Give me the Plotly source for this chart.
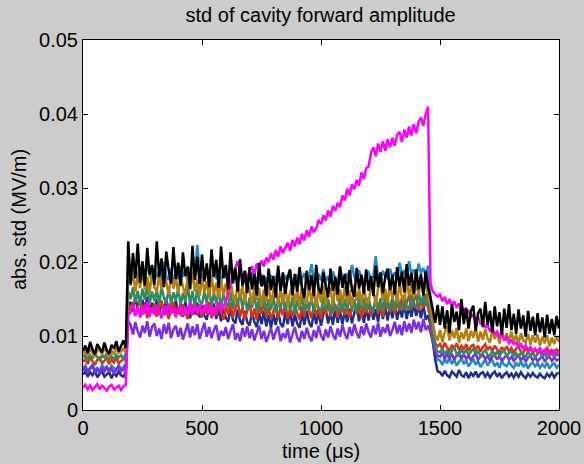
import plotly.graph_objects as go

# time axis (µs), sampled every 10 µs
time_us = list(range(0, 2001, 10))

# ---- series values (MV/m) ----
black_pre = [0.0080, 0.0087, 0.0077, 0.0092, 0.0082, 0.0075, 0.0089, 0.0084, 0.0078, 0.0091,
             0.0081, 0.0076, 0.0088, 0.0083, 0.0093, 0.0079, 0.0086, 0.0094, 0.0084]
black_mid = [0.0228,
             0.0170, 0.0212, 0.0178, 0.0225, 0.0172, 0.0201, 0.0168, 0.0219, 0.0183, 0.0196,
             0.0169, 0.0228, 0.0180, 0.0205, 0.0166, 0.0214, 0.0189, 0.0171, 0.0220, 0.0177,
             0.0199, 0.0168, 0.0213, 0.0181, 0.0194, 0.0164, 0.0222, 0.0176, 0.0207, 0.0170,
             0.0210, 0.0174, 0.0198, 0.0166, 0.0217, 0.0180, 0.0203, 0.0165, 0.0221, 0.0178,
             0.0196, 0.0163, 0.0213, 0.0171, 0.0192, 0.0160, 0.0204, 0.0168, 0.0188, 0.0158,
             0.0193, 0.0163, 0.0184, 0.0155, 0.0199, 0.0167, 0.0182, 0.0154, 0.0191, 0.0162,
             0.0181, 0.0152, 0.0195, 0.0161, 0.0186, 0.0157, 0.0179, 0.0190, 0.0155, 0.0184,
             0.0160, 0.0193, 0.0166, 0.0151, 0.0188, 0.0162, 0.0182, 0.0154, 0.0196, 0.0164,
             0.0157, 0.0186, 0.0168, 0.0152, 0.0191, 0.0161, 0.0180, 0.0156, 0.0194, 0.0165,
             0.0184, 0.0155, 0.0189, 0.0163, 0.0153, 0.0192, 0.0164, 0.0183, 0.0157, 0.0190,
             0.0161, 0.0181, 0.0154, 0.0195, 0.0166, 0.0186, 0.0158, 0.0180, 0.0191, 0.0162,
             0.0183, 0.0156, 0.0193, 0.0167, 0.0187, 0.0159, 0.0197, 0.0168, 0.0185, 0.0157,
             0.0190, 0.0163, 0.0184, 0.0155, 0.0188, 0.0166]
black_post = [0.0152, 0.0135, 0.0118, 0.0142,
              0.0115, 0.0140, 0.0110, 0.0135, 0.0104, 0.0143, 0.0119, 0.0133, 0.0108, 0.0150,
              0.0116, 0.0138, 0.0110, 0.0134, 0.0141, 0.0107, 0.0131, 0.0137, 0.0112, 0.0146,
              0.0115, 0.0134, 0.0105, 0.0140, 0.0113, 0.0132, 0.0102, 0.0137, 0.0111, 0.0143,
              0.0108, 0.0130, 0.0103, 0.0136, 0.0110, 0.0128, 0.0099, 0.0134, 0.0107, 0.0126,
              0.0101, 0.0131, 0.0105, 0.0125, 0.0098, 0.0129, 0.0103, 0.0123, 0.0101, 0.0127,
              0.0110]

brown_pre = [0.0076, 0.0081, 0.0073, 0.0083, 0.0077, 0.0072, 0.0080, 0.0082, 0.0074, 0.0084,
             0.0078, 0.0071, 0.0081, 0.0075, 0.0085, 0.0077, 0.0079, 0.0083, 0.0078]
brown_mid = [0.0192,
             0.0168, 0.0188, 0.0160, 0.0182, 0.0165, 0.0190, 0.0162, 0.0180, 0.0158, 0.0186,
             0.0166, 0.0159, 0.0184, 0.0163, 0.0189, 0.0170, 0.0156, 0.0182, 0.0164, 0.0179,
             0.0158, 0.0183, 0.0166, 0.0155, 0.0181, 0.0162, 0.0187, 0.0160, 0.0177, 0.0154,
             0.0179, 0.0159, 0.0174, 0.0152, 0.0182, 0.0157, 0.0172, 0.0150, 0.0177, 0.0155,
             0.0171, 0.0149, 0.0175, 0.0154, 0.0146, 0.0172, 0.0152, 0.0168, 0.0144, 0.0170,
             0.0162, 0.0142, 0.0167, 0.0149, 0.0165, 0.0140, 0.0163, 0.0146, 0.0169, 0.0143,
             0.0161, 0.0166, 0.0141, 0.0163, 0.0145, 0.0168, 0.0139, 0.0160, 0.0165, 0.0144,
             0.0163, 0.0140, 0.0167, 0.0147, 0.0143, 0.0170, 0.0146, 0.0162, 0.0138, 0.0165,
             0.0145, 0.0168, 0.0142, 0.0161, 0.0165, 0.0141, 0.0171, 0.0147, 0.0163, 0.0143,
             0.0167, 0.0144, 0.0162, 0.0139, 0.0169, 0.0148, 0.0164, 0.0142, 0.0166, 0.0149,
             0.0144, 0.0168, 0.0162, 0.0141, 0.0165, 0.0173, 0.0147, 0.0164, 0.0145, 0.0169,
             0.0150, 0.0167, 0.0144, 0.0172, 0.0152, 0.0148, 0.0175, 0.0154, 0.0170, 0.0151,
             0.0173, 0.0155, 0.0177, 0.0157, 0.0174, 0.0154]
brown_post = [0.0142, 0.0118, 0.0101, 0.0094,
              0.0108, 0.0092, 0.0105, 0.0113, 0.0094, 0.0108, 0.0097, 0.0111, 0.0091, 0.0105,
              0.0096, 0.0110, 0.0093, 0.0107, 0.0098, 0.0112, 0.0092, 0.0106, 0.0095, 0.0109,
              0.0097, 0.0091, 0.0108, 0.0096, 0.0105, 0.0090, 0.0107, 0.0094, 0.0104, 0.0093,
              0.0106, 0.0092, 0.0102, 0.0089, 0.0104, 0.0094, 0.0091, 0.0103, 0.0088, 0.0101,
              0.0091, 0.0102, 0.0087, 0.0099, 0.0090, 0.0101, 0.0086, 0.0098, 0.0089, 0.0100,
              0.0092]

lblue_pre = [0.0056, 0.0060, 0.0053, 0.0058, 0.0062, 0.0054, 0.0057, 0.0052, 0.0061, 0.0056,
             0.0059, 0.0053, 0.0060, 0.0057, 0.0054, 0.0061, 0.0055, 0.0058, 0.0063]
lblue_mid = [0.0180,
             0.0187, 0.0174, 0.0194, 0.0180, 0.0172, 0.0190, 0.0177, 0.0198, 0.0182, 0.0175,
             0.0192, 0.0178, 0.0188, 0.0173, 0.0200, 0.0181, 0.0176, 0.0191, 0.0174, 0.0186,
             0.0177, 0.0195, 0.0180, 0.0189, 0.0172, 0.0192, 0.0182, 0.0176, 0.0223, 0.0186,
             0.0179, 0.0174, 0.0190, 0.0181, 0.0172, 0.0194, 0.0177, 0.0187, 0.0171, 0.0189,
             0.0180, 0.0175, 0.0203, 0.0173, 0.0184, 0.0170, 0.0188, 0.0176, 0.0172, 0.0183,
             0.0175, 0.0186, 0.0169, 0.0180, 0.0171, 0.0183, 0.0168, 0.0179, 0.0173, 0.0182,
             0.0170, 0.0179, 0.0186, 0.0172, 0.0168, 0.0182, 0.0175, 0.0188, 0.0171, 0.0178,
             0.0183, 0.0169, 0.0176, 0.0185, 0.0172, 0.0180, 0.0197, 0.0175, 0.0170, 0.0184,
             0.0175, 0.0190, 0.0173, 0.0181, 0.0171, 0.0187, 0.0177, 0.0172, 0.0192, 0.0179,
             0.0174, 0.0185, 0.0176, 0.0196, 0.0180, 0.0175, 0.0189, 0.0177, 0.0172, 0.0183,
             0.0186, 0.0176, 0.0181, 0.0208, 0.0178, 0.0174, 0.0188, 0.0181, 0.0177, 0.0191,
             0.0179, 0.0186, 0.0176, 0.0199, 0.0182, 0.0189, 0.0178, 0.0201, 0.0183, 0.0190,
             0.0180, 0.0198, 0.0185, 0.0192, 0.0182, 0.0195]
lblue_post = [0.0150, 0.0110, 0.0078, 0.0068,
              0.0067, 0.0061, 0.0069, 0.0063, 0.0071, 0.0062, 0.0068, 0.0060, 0.0066, 0.0070,
              0.0062, 0.0067, 0.0059, 0.0065, 0.0069, 0.0061, 0.0066, 0.0058, 0.0064, 0.0068,
              0.0060, 0.0065, 0.0067, 0.0059, 0.0064, 0.0057, 0.0066, 0.0061, 0.0059, 0.0065,
              0.0060, 0.0057, 0.0064, 0.0059, 0.0066, 0.0058, 0.0063, 0.0056, 0.0062, 0.0064,
              0.0059, 0.0063, 0.0057, 0.0062, 0.0058, 0.0064, 0.0056, 0.0061, 0.0063, 0.0057,
              0.0061]

green_pre = [0.0071, 0.0075, 0.0068, 0.0074, 0.0070, 0.0076, 0.0072, 0.0067, 0.0074, 0.0071,
             0.0077, 0.0069, 0.0073, 0.0068, 0.0075, 0.0071, 0.0074, 0.0069, 0.0076]
green_mid = [0.0160,
             0.0150, 0.0166, 0.0145, 0.0161, 0.0142, 0.0164, 0.0149, 0.0169, 0.0144, 0.0160,
             0.0147, 0.0163, 0.0141, 0.0167, 0.0152, 0.0144, 0.0165, 0.0143, 0.0159, 0.0148,
             0.0164, 0.0142, 0.0158, 0.0146, 0.0168, 0.0143, 0.0161, 0.0140, 0.0163, 0.0147,
             0.0143, 0.0160, 0.0145, 0.0165, 0.0140, 0.0158, 0.0144, 0.0162, 0.0138, 0.0157,
             0.0145, 0.0139, 0.0160, 0.0136, 0.0155, 0.0142, 0.0161, 0.0137, 0.0153, 0.0134,
             0.0152, 0.0138, 0.0157, 0.0133, 0.0151, 0.0137, 0.0155, 0.0132, 0.0150, 0.0135,
             0.0154, 0.0131, 0.0149, 0.0136, 0.0156, 0.0133, 0.0151, 0.0134, 0.0153, 0.0130,
             0.0149, 0.0135, 0.0155, 0.0132, 0.0150, 0.0136, 0.0152, 0.0131, 0.0151, 0.0137,
             0.0133, 0.0153, 0.0135, 0.0150, 0.0130, 0.0154, 0.0136, 0.0134, 0.0152, 0.0132,
             0.0150, 0.0135, 0.0155, 0.0133, 0.0149, 0.0131, 0.0153, 0.0136, 0.0151, 0.0134,
             0.0152, 0.0137, 0.0132, 0.0154, 0.0135, 0.0151, 0.0133, 0.0156, 0.0138, 0.0136,
             0.0153, 0.0134, 0.0158, 0.0139, 0.0137, 0.0155, 0.0140, 0.0135, 0.0157, 0.0141,
             0.0138, 0.0160, 0.0142, 0.0156, 0.0140, 0.0158]
green_post = [0.0130, 0.0105, 0.0085, 0.0079,
              0.0078, 0.0083, 0.0075, 0.0081, 0.0074, 0.0080, 0.0084, 0.0076, 0.0073, 0.0082,
              0.0077, 0.0081, 0.0074, 0.0079, 0.0083, 0.0075, 0.0080, 0.0073, 0.0077, 0.0081,
              0.0075, 0.0072, 0.0080, 0.0074, 0.0079, 0.0073, 0.0078, 0.0081, 0.0072, 0.0077,
              0.0079, 0.0073, 0.0077, 0.0071, 0.0078, 0.0074, 0.0072, 0.0079, 0.0073, 0.0077,
              0.0071, 0.0076, 0.0078, 0.0072, 0.0077, 0.0070, 0.0075, 0.0078, 0.0071, 0.0076,
              0.0073]

red_pre = [0.0065, 0.0069, 0.0062, 0.0071, 0.0066, 0.0061, 0.0068, 0.0072, 0.0063, 0.0066,
           0.0070, 0.0062, 0.0068, 0.0064, 0.0071, 0.0063, 0.0066, 0.0069, 0.0067]
red_mid = [0.0142,
           0.0134, 0.0146, 0.0127, 0.0140, 0.0149, 0.0129, 0.0143, 0.0124, 0.0139, 0.0131,
           0.0144, 0.0126, 0.0138, 0.0148, 0.0128, 0.0141, 0.0123, 0.0136, 0.0146, 0.0130,
           0.0140, 0.0127, 0.0143, 0.0132, 0.0123, 0.0145, 0.0133, 0.0149, 0.0128, 0.0139,
           0.0125, 0.0142, 0.0130, 0.0146, 0.0124, 0.0139, 0.0128, 0.0144, 0.0131, 0.0122,
           0.0140, 0.0129, 0.0145, 0.0125, 0.0137, 0.0148, 0.0126, 0.0139, 0.0123, 0.0133,
           0.0144, 0.0125, 0.0137, 0.0122, 0.0141, 0.0130, 0.0147, 0.0126, 0.0139, 0.0123,
           0.0133, 0.0143, 0.0124, 0.0139, 0.0128, 0.0146, 0.0123, 0.0136, 0.0127, 0.0142,
           0.0131, 0.0122, 0.0140, 0.0126, 0.0145, 0.0133, 0.0124, 0.0142, 0.0128, 0.0138,
           0.0123, 0.0140, 0.0130, 0.0146, 0.0126, 0.0137, 0.0143, 0.0125, 0.0134, 0.0145,
           0.0128, 0.0142, 0.0125, 0.0137, 0.0149, 0.0129, 0.0143, 0.0124, 0.0140, 0.0131,
           0.0145, 0.0127, 0.0139, 0.0148, 0.0130, 0.0143, 0.0126, 0.0141, 0.0151, 0.0132,
           0.0143, 0.0129, 0.0147, 0.0134, 0.0152, 0.0135, 0.0145, 0.0155, 0.0136, 0.0148,
           0.0156, 0.0134, 0.0150, 0.0138, 0.0157, 0.0137]
red_post = [0.0125, 0.0100, 0.0090, 0.0086,
            0.0089, 0.0082, 0.0091, 0.0084, 0.0080, 0.0088, 0.0083, 0.0090, 0.0081, 0.0087,
            0.0082, 0.0089, 0.0080, 0.0086, 0.0088, 0.0081, 0.0087, 0.0079, 0.0085, 0.0089,
            0.0081, 0.0086, 0.0079, 0.0087, 0.0082, 0.0078, 0.0085, 0.0080, 0.0086, 0.0079,
            0.0084, 0.0078, 0.0083, 0.0086, 0.0079, 0.0077, 0.0084, 0.0079, 0.0083, 0.0076,
            0.0082, 0.0078, 0.0083, 0.0077, 0.0081, 0.0084, 0.0076, 0.0081, 0.0077, 0.0082,
            0.0079]

dblue_pre = [0.0048, 0.0052, 0.0045, 0.0051, 0.0047, 0.0053, 0.0044, 0.0049, 0.0052, 0.0045,
             0.0048, 0.0051, 0.0043, 0.0050, 0.0046, 0.0052, 0.0047, 0.0045, 0.0051]
dblue_mid = [0.0140,
             0.0146, 0.0133, 0.0152, 0.0138, 0.0130, 0.0149, 0.0136, 0.0153, 0.0131, 0.0145,
             0.0134, 0.0150, 0.0129, 0.0144, 0.0133, 0.0151, 0.0128, 0.0142, 0.0131, 0.0148,
             0.0130, 0.0143, 0.0126, 0.0146, 0.0132, 0.0124, 0.0142, 0.0129, 0.0145, 0.0125,
             0.0141, 0.0128, 0.0122, 0.0140, 0.0126, 0.0144, 0.0123, 0.0137, 0.0120, 0.0136,
             0.0125, 0.0119, 0.0138, 0.0122, 0.0117, 0.0136, 0.0121, 0.0115, 0.0134, 0.0119,
             0.0114, 0.0132, 0.0119, 0.0112, 0.0131, 0.0116, 0.0134, 0.0113, 0.0129, 0.0111,
             0.0130, 0.0115, 0.0133, 0.0117, 0.0112, 0.0132, 0.0116, 0.0135, 0.0113, 0.0129,
             0.0117, 0.0111, 0.0131, 0.0115, 0.0134, 0.0118, 0.0112, 0.0132, 0.0116, 0.0133,
             0.0114, 0.0130, 0.0136, 0.0117, 0.0132, 0.0115, 0.0138, 0.0118, 0.0133, 0.0116,
             0.0134, 0.0119, 0.0137, 0.0117, 0.0132, 0.0139, 0.0120, 0.0135, 0.0118, 0.0138,
             0.0121, 0.0140, 0.0122, 0.0136, 0.0119, 0.0142, 0.0123, 0.0139, 0.0121, 0.0141,
             0.0124, 0.0143, 0.0122, 0.0139, 0.0125, 0.0144, 0.0123, 0.0140, 0.0126, 0.0145,
             0.0127, 0.0141, 0.0124, 0.0143, 0.0122, 0.0128]
dblue_post = [0.0115, 0.0090, 0.0068, 0.0052,
              0.0051, 0.0046, 0.0053, 0.0047, 0.0044, 0.0052, 0.0048, 0.0045, 0.0054, 0.0047,
              0.0045, 0.0051, 0.0043, 0.0050, 0.0046, 0.0052, 0.0044, 0.0049, 0.0051, 0.0045,
              0.0050, 0.0044, 0.0049, 0.0052, 0.0045, 0.0050, 0.0043, 0.0048, 0.0051, 0.0045,
              0.0049, 0.0044, 0.0050, 0.0045, 0.0051, 0.0046, 0.0043, 0.0049, 0.0045, 0.0050,
              0.0046, 0.0044, 0.0049, 0.0045, 0.0043, 0.0049, 0.0045, 0.0050, 0.0044, 0.0049,
              0.0050]

purple_pre = [0.0053, 0.0057, 0.0050, 0.0056, 0.0059, 0.0051, 0.0055, 0.0049, 0.0057, 0.0052,
              0.0058, 0.0051, 0.0056, 0.0050, 0.0055, 0.0058, 0.0052, 0.0056, 0.0052]
purple_mid = [0.0120,
              0.0115, 0.0102, 0.0119, 0.0106, 0.0098, 0.0114, 0.0104, 0.0120, 0.0099, 0.0112,
              0.0117, 0.0100, 0.0110, 0.0096, 0.0116, 0.0103, 0.0118, 0.0097, 0.0109, 0.0114,
              0.0099, 0.0111, 0.0095, 0.0108, 0.0117, 0.0098, 0.0113, 0.0101, 0.0116, 0.0096,
              0.0109, 0.0118, 0.0099, 0.0112, 0.0097, 0.0108, 0.0115, 0.0094, 0.0107, 0.0100,
              0.0112, 0.0096, 0.0107, 0.0116, 0.0095, 0.0104, 0.0093, 0.0111, 0.0099, 0.0113,
              0.0097, 0.0109, 0.0094, 0.0103, 0.0114, 0.0096, 0.0107, 0.0092, 0.0102, 0.0111,
              0.0095, 0.0106, 0.0113, 0.0093, 0.0104, 0.0097, 0.0110, 0.0091, 0.0102, 0.0112,
              0.0098, 0.0092, 0.0107, 0.0096, 0.0111, 0.0100, 0.0093, 0.0108, 0.0097, 0.0114,
              0.0101, 0.0094, 0.0109, 0.0098, 0.0113, 0.0102, 0.0095, 0.0110, 0.0099, 0.0115,
              0.0103, 0.0096, 0.0112, 0.0100, 0.0116, 0.0104, 0.0097, 0.0113, 0.0101, 0.0117,
              0.0105, 0.0098, 0.0114, 0.0102, 0.0118, 0.0099, 0.0112, 0.0104, 0.0116, 0.0100,
              0.0108, 0.0119, 0.0103, 0.0115, 0.0101, 0.0120, 0.0106, 0.0117, 0.0104, 0.0122,
              0.0109, 0.0119, 0.0105, 0.0123, 0.0108, 0.0114]
purple_post = [0.0105, 0.0090, 0.0078, 0.0074,
               0.0072, 0.0077, 0.0069, 0.0075, 0.0070, 0.0076, 0.0068, 0.0074, 0.0078, 0.0070,
               0.0075, 0.0069, 0.0074, 0.0067, 0.0073, 0.0076, 0.0068, 0.0072, 0.0075, 0.0069,
               0.0073, 0.0067, 0.0072, 0.0075, 0.0068, 0.0073, 0.0066, 0.0071, 0.0074, 0.0068,
               0.0072, 0.0066, 0.0071, 0.0074, 0.0067, 0.0072, 0.0065, 0.0071, 0.0073, 0.0067,
               0.0071, 0.0066, 0.0070, 0.0073, 0.0065, 0.0070, 0.0072, 0.0066, 0.0071, 0.0067,
               0.0069]

magenta_pre = [0.0030, 0.0034, 0.0028, 0.0033, 0.0027, 0.0031, 0.0035, 0.0028, 0.0033, 0.0030,
               0.0026, 0.0032, 0.0034, 0.0028, 0.0031, 0.0033, 0.0027, 0.0032, 0.0034]
magenta_mid = [0.0128,
               0.0132, 0.0143, 0.0127, 0.0139, 0.0125, 0.0141, 0.0130, 0.0146, 0.0126, 0.0138,
               0.0129, 0.0142, 0.0133, 0.0124, 0.0140, 0.0128, 0.0144, 0.0131, 0.0137, 0.0125,
               0.0136, 0.0141, 0.0127, 0.0139, 0.0130, 0.0145, 0.0128, 0.0140, 0.0133, 0.0143,
               0.0129, 0.0138, 0.0144, 0.0130, 0.0141, 0.0127, 0.0139, 0.0146, 0.0132, 0.0140,
               0.0146, 0.0158, 0.0170, 0.0185, 0.0192, 0.0201, 0.0187, 0.0179, 0.0188, 0.0176,
               0.0188, 0.0194, 0.0182, 0.0198, 0.0191, 0.0202, 0.0194, 0.0206, 0.0200, 0.0212,
               0.0203, 0.0216, 0.0207, 0.0221, 0.0212, 0.0218, 0.0226, 0.0215, 0.0230, 0.0221,
               0.0233, 0.0224, 0.0238, 0.0229, 0.0243, 0.0234, 0.0248, 0.0240, 0.0245, 0.0257,
               0.0251, 0.0263, 0.0256, 0.0270, 0.0261, 0.0276, 0.0269, 0.0280, 0.0274, 0.0290,
               0.0283, 0.0299, 0.0290, 0.0305, 0.0298, 0.0311, 0.0303, 0.0321, 0.0312, 0.0327,
               0.0329, 0.0347, 0.0355, 0.0343, 0.0360, 0.0349, 0.0363, 0.0350, 0.0366, 0.0355,
               0.0368, 0.0357, 0.0372, 0.0376, 0.0362, 0.0379, 0.0368, 0.0383, 0.0371, 0.0386,
               0.0374, 0.0390, 0.0395, 0.0384, 0.0400, 0.0410]
magenta_post = [0.0172, 0.0160, 0.0157, 0.0153,
                0.0156, 0.0147, 0.0153, 0.0143, 0.0150, 0.0141, 0.0147, 0.0138, 0.0144, 0.0134,
                0.0137, 0.0129, 0.0135, 0.0125, 0.0129, 0.0120, 0.0126, 0.0116, 0.0120, 0.0111,
                0.0115, 0.0106, 0.0112, 0.0102, 0.0106, 0.0098, 0.0104, 0.0094, 0.0098, 0.0090,
                0.0094, 0.0089, 0.0091, 0.0085, 0.0089, 0.0083, 0.0087, 0.0081, 0.0085, 0.0080,
                0.0083, 0.0077, 0.0084, 0.0076, 0.0082, 0.0075, 0.0081, 0.0074, 0.0080, 0.0076,
                0.0077]

series = [
    ("lblue", lblue_pre + lblue_mid + lblue_post, "#1A8CD0"),
    ("dblue", dblue_pre + dblue_mid + dblue_post, "#1C2E94"),
    ("purple", purple_pre + purple_mid + purple_post, "#7A2DEB"),
    ("red", red_pre + red_mid + red_post, "#E0320E"),
    ("green", green_pre + green_mid + green_post, "#2F8A64"),
    ("brown", brown_pre + brown_mid + brown_post, "#B47F0C"),
    ("magenta", magenta_pre + magenta_mid + magenta_post, "#FF00FF"),
    ("black", black_pre + black_mid + black_post, "#000000"),
]

x_ticks = [0, 500, 1000, 1500, 2000]
y_ticks = [0, 0.01, 0.02, 0.03, 0.04, 0.05]
y_ticktext = ["0", "0.01", "0.02", "0.03", "0.04", "0.05"]

fig = go.Figure()
for name, vals, col in series:
    fig.add_trace(go.Scatter(x=time_us, y=vals, mode="lines", name=name,
                             line=dict(color=col, width=2.5), showlegend=False))

font_family = "Liberation Sans, Arial, Helvetica, sans-serif"
fig.update_layout(
    template="none",
    width=584, height=464,
    margin=dict(l=83, r=25, t=40, b=54, pad=0),
    paper_bgcolor="#CCCCCC", plot_bgcolor="#FFFFFF",
    font=dict(family=font_family, color="#000000", size=20),
    showlegend=False,
    title=dict(text="std of cavity forward amplitude", x=0.549, xanchor="center",
               y=0.968, yanchor="middle", font=dict(size=20)),
    xaxis=dict(range=[0, 2000], tickvals=x_ticks, ticks="inside", ticklen=5,
               tickcolor="#000", showline=True, linecolor="#000", linewidth=1,
               mirror="ticks", showgrid=False, zeroline=False, automargin=False,
               tickfont=dict(size=20)),
    yaxis=dict(range=[0, 0.05], tickvals=y_ticks, ticktext=y_ticktext, ticks="inside",
               ticklen=5, tickcolor="#000", showline=True, linecolor="#000", linewidth=1,
               mirror="ticks", showgrid=False, zeroline=False, automargin=False,
               tickfont=dict(size=20)),
    annotations=[
        dict(text="time (μs)", xref="paper", yref="paper", x=0.5, y=0,
             xanchor="center", yanchor="middle", yshift=-41, showarrow=False,
             font=dict(size=20)),
        dict(text="abs. std (MV/m)", xref="paper", yref="paper", x=0, y=0.5,
             xanchor="center", yanchor="middle", xshift=-64, yshift=5, textangle=-90,
             showarrow=False, font=dict(size=20)),
    ],
)

fig.write_html("out.html")
